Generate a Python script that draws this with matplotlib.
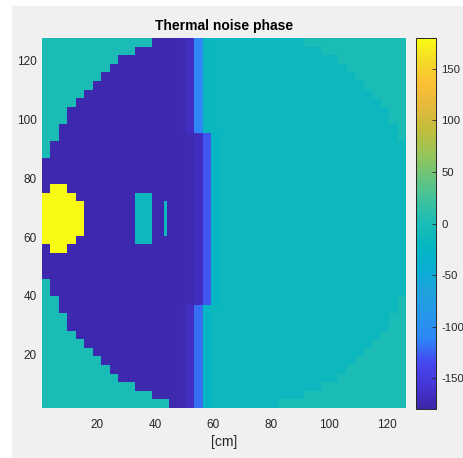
import numpy as np
import matplotlib
matplotlib.use("Agg")
import matplotlib.pyplot as plt
from matplotlib.colors import LinearSegmentedColormap
from matplotlib.patches import Rectangle

plt.rcParams['font.family'] = ['Liberation Sans', 'DejaVu Sans']
plt.rcParams['axes.unicode_minus'] = False

# ---- parula-like colormap anchors ----
parula_pos = [0.0, 0.0627, 0.125, 0.1882, 0.251, 0.3137, 0.3765, 0.4392, 0.502,
              0.5647, 0.6275, 0.6902, 0.7529, 0.8157, 0.8784, 0.9412, 1.0]
parula_rgb = [(0.2422, 0.1504, 0.6603), (0.2705, 0.2137, 0.8361), (0.2760, 0.2810, 0.9410),
              (0.1786, 0.5289, 0.9682), (0.1540, 0.5902, 0.9218), (0.1216, 0.6369, 0.8717),
              (0.0343, 0.6866, 0.8264), (0.0239, 0.7163, 0.7560), (0.1081, 0.7404, 0.7115),
              (0.2445, 0.7612, 0.6125), (0.4162, 0.7682, 0.4804), (0.5965, 0.7701, 0.3397),
              (0.7553, 0.7418, 0.2366), (0.8932, 0.7285, 0.2373), (0.9848, 0.7511, 0.2067),
              (0.9600, 0.8556, 0.1527), (0.9769, 0.9839, 0.0805)]
parula = LinearSegmentedColormap.from_list('parula', list(zip(parula_pos, parula_rgb)), N=256)

# ---- data ----
n_rows, n_cols = 43, 43
x_range = (1.2, 126.6)
y_range = (2.0, 127.5)

# first column inside the disc, per row (top -> bottom)
disc_left = [13, 11, 9, 8, 7, 6, 5, 4, 3, 3, 2, 2, 1, 1] + [0] * 14 + \
            [1, 1, 2, 2, 3, 3, 4, 5, 6, 7, 8, 9, 11, 13, 15]
# column after the last one inside the disc, per row
disc_right = [31, 33, 35, 36, 37, 38, 39, 40, 41, 41, 42, 42] + [43] * 18 + \
             [42, 42, 41, 41, 40, 39, 38, 37, 36, 35, 33, 31, 28]

phase_outside = 0
phase_left = -176
phase_right = -15
phase_blob = 180

# seam between the two halves: columns and phase values by row band
seam_cols = [16, 17, 18, 19, 20]
seam_top = [-174, -166, -110, -18, -15]    # rows 0-10
seam_mid = [-176, -174, -168, -130, -25]   # rows 11-30
seam_bot = [-174, -166, -120, -25, -15]    # rows 31-42
seam_band_rows = [(0, 11), (11, 31), (31, 43)]

# yellow blob: per column, row start / end (exclusive)
blob_cols = [0, 1, 2, 3, 4]
blob_row_start = [18, 17, 17, 18, 19]
blob_row_end = [24, 25, 25, 24, 23]

# small cyan rectangle
rect_cols = (11, 13)
rect_rows = (18, 24)
# thin cyan line
line_x = (43.2, 44.3)
line_rows = (19, 23)

# ---- build image ----
img = np.full((n_rows, n_cols), float(phase_outside))
for r in range(n_rows):
    img[r, disc_left[r]:disc_right[r]] = phase_left
    img[r, 19:disc_right[r]] = phase_right
for (r0, r1), vals in zip(seam_band_rows, [seam_top, seam_mid, seam_bot]):
    for r in range(r0, r1):
        for c, v in zip(seam_cols, vals):
            if disc_left[r] <= c < disc_right[r]:
                img[r, c] = v
for c, rs, re in zip(blob_cols, blob_row_start, blob_row_end):
    img[rs:re, c] = phase_blob
img[rect_rows[0]:rect_rows[1], rect_cols[0]:rect_cols[1]] = phase_right

W, H = 464, 458
fig = plt.figure(figsize=(W / 100, H / 100), dpi=100, facecolor='white')
fig.patches.append(Rectangle((12 / W, 0), (W - 12) / W, (H - 6) / H,
                             transform=fig.transFigure, color='#f0f0f0', zorder=-10))

ax = fig.add_axes([42.3 / W, 1 - 408 / H, (406 - 42.3) / W, 370 / H])
im = ax.imshow(img, cmap=parula, vmin=-180, vmax=180, aspect='auto',
               extent=[x_range[0], x_range[1], y_range[0], y_range[1]],
               origin='upper', interpolation='nearest')
y_edges = np.linspace(y_range[1], y_range[0], n_rows + 1)
ax.add_patch(Rectangle((line_x[0], y_edges[line_rows[1]]), line_x[1] - line_x[0],
                       y_edges[line_rows[0]] - y_edges[line_rows[1]],
                       color=parula((phase_right + 180) / 360), lw=0))
ax.set_xlim(*x_range)
ax.set_ylim(*y_range)
ax.set_xticks([20, 40, 60, 80, 100, 120])
ax.set_yticks([20, 40, 60, 80, 100, 120])
ax.tick_params(length=0, labelsize=8.5, labelcolor='#262626')
ax.tick_params(axis='y', pad=4)
ax.tick_params(axis='x', pad=8)
for s in ax.spines.values():
    s.set_visible(False)
ax.set_title('Thermal noise phase', fontsize=10, fontweight='bold', color='black', pad=6)
ax.set_xlabel('[cm]', fontsize=10, color='#262626', labelpad=3)

cax = fig.add_axes([416 / W, 1 - 409 / H, 20 / W, 371 / H])
cb = fig.colorbar(im, cax=cax)
cb.set_ticks([-150, -100, -50, 0, 50, 100, 150])
cax.tick_params(direction='in', length=3, width=0.6, labelsize=8.2, labelcolor='#262626',
                color='#262626', pad=4)
cb.outline.set_edgecolor('#262626')
cb.outline.set_linewidth(0.7)

fig.savefig('out.png', dpi=100, facecolor=fig.get_facecolor())
